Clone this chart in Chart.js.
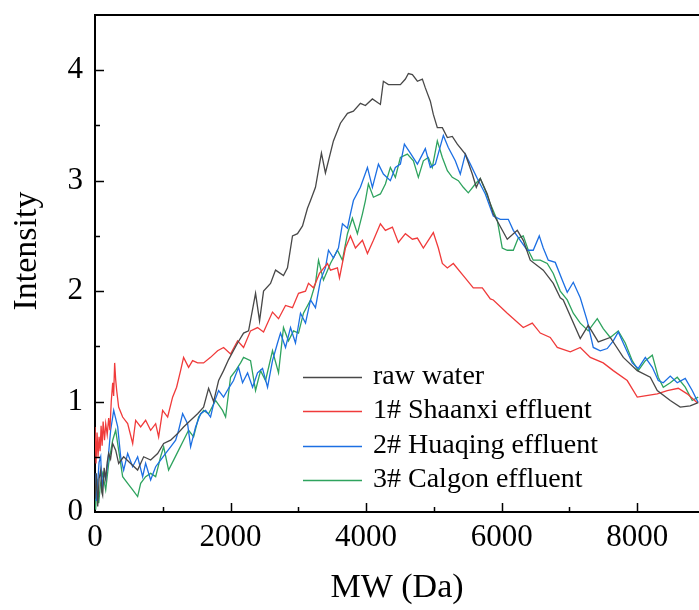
<!DOCTYPE html>
<html>
<head>
<meta charset="utf-8">
<script src="https://cdn.jsdelivr.net/npm/chart.js@4.4.1/dist/chart.umd.min.js"></script>
<style>
html, body { margin: 0; padding: 0; background: #fff; }
</style>
</head>
<body>
<canvas id="mw_plot" width="699" height="610"></canvas>
<script>
'use strict';

// Axis ranges / ticks
const X_MIN = 0, X_MAX = 8912;
const Y_MIN = 0, Y_MAX = 4.5;
const X_TICKS = [0, 2000, 4000, 6000, 8000];
const Y_TICKS = [0, 1, 2, 3, 4];
const Y_TITLE = 'Intensity';

// Series labels and colours
const LABELS = ['raw water', '1# Shaanxi effluent', '2# Huaqing effluent', '3# Calgon effluent'];
const COLORS = ['#484848', '#f03a3a', '#1c6fe3', '#2ea35e'];

// raw water
const rawWaterMW = [
    0, 20, 40, 60, 84, 100, 113, 135, 158, 180,
    202, 230, 261, 305, 349, 423, 526, 629, 718, 821,
    924, 1013, 1116, 1219, 1307, 1411, 1514, 1602, 1676, 1750,
    1824, 1897, 1971, 2104, 2192, 2266, 2369, 2428, 2487, 2590,
    2664, 2781, 2840, 2914, 2988, 3062, 3135, 3180, 3253, 3341,
    3400, 3518, 3621, 3725, 3813, 3916, 3990, 4093, 4211, 4255,
    4329, 4506, 4580, 4624, 4683, 4757, 4830, 4874, 4948, 4992,
    5051, 5125, 5199, 5272, 5346, 5464, 5567, 5626, 5685, 5788,
    5877, 6083, 6231, 6319, 6422, 6614, 6762, 6865, 6909, 7160,
    7278, 7426, 7603, 7795, 8001, 8193, 8296, 8488, 8635, 8782,
    8900
];
const rawWater = [
    0.12, 0.35, 0.05, 0.30, 0.38, 0.18, 0.15, 0.40, 0.30, 0.45,
    0.53, 0.48, 0.62, 0.56, 0.44, 0.50, 0.44, 0.38, 0.50, 0.47,
    0.53, 0.62, 0.65, 0.71, 0.77, 0.83, 0.89, 0.95, 1.12, 1.00,
    1.19, 1.28, 1.38, 1.53, 1.62, 1.64, 1.98, 1.73, 2.00, 2.07,
    2.19, 2.14, 2.21, 2.50, 2.52, 2.59, 2.75, 2.82, 2.94, 3.25,
    3.07, 3.36, 3.52, 3.61, 3.63, 3.70, 3.68, 3.74, 3.69, 3.90,
    3.87, 3.87, 3.92, 3.97, 3.96, 3.90, 3.92, 3.84, 3.72, 3.60,
    3.48, 3.48, 3.39, 3.40, 3.33, 3.24, 3.06, 2.94, 3.02, 2.88,
    2.70, 2.47, 2.55, 2.46, 2.28, 2.19, 2.07, 1.94, 1.92, 1.57,
    1.69, 1.54, 1.58, 1.40, 1.28, 1.22, 1.10, 1.01, 0.95, 0.96,
    0.99
];

// 1# Shaanxi effluent
const shaanxiMW = [
    0, 15, 30, 45, 60, 75, 90, 105, 120, 140,
    158, 180, 202, 220, 240, 261, 275, 290, 305, 320,
    349, 408, 482, 556, 600, 674, 747, 821, 895, 939,
    998, 1072, 1145, 1204, 1263, 1307, 1381, 1440, 1514, 1602,
    1705, 1809, 1897, 2000, 2104, 2192, 2295, 2398, 2487, 2619,
    2708, 2811, 2914, 3003, 3106, 3150, 3224, 3312, 3430, 3474,
    3577, 3607, 3695, 3769, 3843, 3946, 4020, 4108, 4211, 4285,
    4388, 4476, 4580, 4683, 4757, 4845, 4992, 5066, 5125, 5199,
    5287, 5434, 5582, 5715, 5833, 5877, 6083, 6319, 6452, 6570,
    6717, 6821, 7013, 7160, 7308, 7499, 7647, 7853, 8001, 8090,
    8296, 8444, 8606, 8738, 8886
];
const shaanxi = [
    0.77, 0.44, 0.72, 0.50, 0.68, 0.55, 0.78, 0.60, 0.82, 0.65,
    0.80, 0.70, 0.85, 0.74, 1.00, 1.17, 1.05, 1.35, 1.20, 1.10,
    0.95, 0.86, 0.80, 0.62, 0.83, 0.77, 0.83, 0.74, 0.80, 0.68,
    0.92, 0.86, 1.04, 1.13, 1.28, 1.40, 1.31, 1.37, 1.35, 1.35,
    1.40, 1.46, 1.49, 1.43, 1.55, 1.49, 1.64, 1.67, 1.63, 1.81,
    1.75, 1.87, 1.85, 1.98, 2.00, 2.07, 2.03, 2.16, 2.25, 2.19,
    2.21, 2.12, 2.39, 2.50, 2.39, 2.46, 2.34, 2.46, 2.61, 2.55,
    2.58, 2.44, 2.52, 2.47, 2.48, 2.39, 2.53, 2.39, 2.25, 2.21,
    2.25, 2.14, 2.03, 2.03, 1.93, 1.92, 1.80, 1.67, 1.71, 1.62,
    1.58, 1.49, 1.45, 1.49, 1.40, 1.35, 1.28, 1.19, 1.04, 1.05,
    1.07, 1.10, 1.12, 1.07, 0.99
];

// 2# Huaqing effluent
const huaqingMW = [
    0, 20, 40, 60, 84, 105, 128, 158, 187, 231,
    276, 335, 379, 423, 482, 556, 629, 703, 747, 821,
    895, 968, 1042, 1116, 1190, 1234, 1293, 1366, 1411, 1484,
    1558, 1632, 1705, 1750, 1824, 1897, 1971, 2044, 2118, 2177,
    2251, 2325, 2398, 2472, 2546, 2619, 2693, 2737, 2811, 2885,
    2958, 3032, 3106, 3180, 3253, 3327, 3400, 3445, 3518, 3592,
    3651, 3725, 3769, 3813, 3916, 4020, 4093, 4182, 4255, 4358,
    4432, 4506, 4565, 4653, 4757, 4874, 4948, 5022, 5140, 5213,
    5316, 5390, 5464, 5538, 5641, 5759, 5877, 5980, 6098, 6172,
    6275, 6378, 6466, 6555, 6614, 6688, 6791, 6894, 6968, 7057,
    7160, 7263, 7352, 7455, 7558, 7647, 7721, 7824, 7927, 8016,
    8120, 8223, 8311, 8385, 8488, 8591, 8709, 8812, 8900
];
const huaqing = [
    0.35, 0.10, 0.26, 0.45, 0.50, 0.20, 0.35, 0.30, 0.44, 0.74,
    0.92, 0.77, 0.50, 0.38, 0.53, 0.41, 0.50, 0.32, 0.44, 0.29,
    0.41, 0.47, 0.53, 0.59, 0.65, 0.74, 0.89, 0.80, 0.59, 0.77,
    0.89, 0.92, 0.86, 0.98, 1.10, 1.04, 1.12, 1.19, 1.31, 1.17,
    1.26, 1.13, 1.26, 1.30, 1.13, 1.37, 1.53, 1.62, 1.49, 1.67,
    1.53, 1.80, 1.71, 1.92, 1.85, 2.10, 2.21, 2.37, 2.30, 2.39,
    2.61, 2.57, 2.70, 2.82, 2.94, 3.12, 2.94, 3.15, 3.06, 3.00,
    3.12, 3.15, 3.33, 3.25, 3.15, 3.29, 3.12, 3.15, 3.41, 3.30,
    3.18, 3.06, 3.24, 3.15, 3.02, 2.88, 2.68, 2.65, 2.65, 2.55,
    2.46, 2.37, 2.37, 2.50, 2.39, 2.28, 2.26, 2.10, 1.99, 2.08,
    1.94, 1.73, 1.49, 1.46, 1.48, 1.55, 1.63, 1.49, 1.35, 1.30,
    1.40, 1.31, 1.19, 1.17, 1.23, 1.17, 1.21, 1.10, 0.99
];

// 3# Calgon effluent
const calgonMW = [
    0, 10, 30, 55, 80, 113, 158, 202, 261, 305,
    349, 408, 482, 556, 629, 674, 747, 821, 895, 968,
    1013, 1086, 1160, 1234, 1307, 1381, 1455, 1529, 1602, 1676,
    1779, 1882, 1927, 2000, 2074, 2148, 2192, 2295, 2369, 2443,
    2516, 2619, 2708, 2781, 2855, 2929, 3003, 3076, 3180, 3253,
    3298, 3371, 3474, 3577, 3651, 3725, 3798, 3872, 3946, 3990,
    4034, 4108, 4211, 4285, 4358, 4432, 4506, 4609, 4698, 4771,
    4845, 4918, 4977, 5051, 5125, 5199, 5272, 5361, 5434, 5508,
    5611, 5685, 5759, 5833, 5936, 6009, 6083, 6172, 6245, 6319,
    6393, 6466, 6570, 6673, 6762, 6865, 6968, 7057, 7160, 7278,
    7411, 7499, 7603, 7721, 7824, 7927, 8016, 8120, 8223, 8311,
    8385, 8488, 8591, 8709, 8812, 8900
];
const calgon = [
    0.20, 0.02, 0.30, 0.08, 0.25, 0.35, 0.20, 0.44, 0.65, 0.74,
    0.56, 0.32, 0.26, 0.20, 0.14, 0.26, 0.32, 0.35, 0.32, 0.50,
    0.59, 0.38, 0.47, 0.56, 0.65, 0.74, 0.68, 0.86, 0.92, 0.89,
    1.01, 0.92, 0.86, 1.22, 1.28, 1.35, 1.40, 1.37, 1.10, 1.28,
    1.19, 1.46, 1.26, 1.67, 1.55, 1.64, 1.62, 1.80, 1.92, 2.07,
    2.28, 2.10, 2.25, 2.37, 2.28, 2.52, 2.66, 2.52, 2.70, 2.82,
    2.97, 2.85, 2.88, 2.97, 3.12, 3.03, 3.21, 3.24, 3.18, 3.03,
    3.18, 3.21, 3.12, 3.36, 3.21, 3.09, 3.03, 3.00, 2.94, 2.89,
    2.97, 3.02, 2.91, 2.79, 2.64, 2.39, 2.37, 2.37, 2.48, 2.50,
    2.37, 2.28, 2.28, 2.25, 2.16, 2.00, 1.92, 1.80, 1.71, 1.64,
    1.75, 1.66, 1.58, 1.64, 1.53, 1.37, 1.28, 1.37, 1.42, 1.22,
    1.13, 1.17, 1.22, 1.13, 1.01, 1.04
];

function toPoints(xs, ys) {
    return xs.map((x, i) => ({ x: x, y: ys[i] }));
}

const SERIES = [
    toPoints(rawWaterMW, rawWater),
    toPoints(shaanxiMW, shaanxi),
    toPoints(huaqingMW, huaqing),
    toPoints(calgonMW, calgon)
];

const FONT = "'Liberation Serif', 'Times New Roman', serif";

// inward ticks (major + minor), top frame line, y title and the legend block
const framePlugin = {
    id: 'frame',
    afterDatasetsDraw(chart) {
        const ctx = chart.ctx;
        const area = chart.chartArea;
        const xs = chart.scales.x, ys = chart.scales.y;
        ctx.save();
        ctx.strokeStyle = '#000';
        ctx.lineWidth = 2;
        ctx.beginPath();
        ctx.moveTo(area.left - 1, area.top);
        ctx.lineTo(area.right, area.top);
        ctx.stroke();

        ctx.lineWidth = 1.5;
        ctx.beginPath();
        for (let v = 1000; v < X_MAX; v += 1000) {
            const px = Math.round(xs.getPixelForValue(v)) + 0.5;
            const len = (v % 2000 === 0) ? 9 : 5;
            ctx.moveTo(px, area.bottom);
            ctx.lineTo(px, area.bottom - len);
        }
        for (let v = 0.5; v < Y_MAX; v += 0.5) {
            const py = Math.round(ys.getPixelForValue(v)) + 0.5;
            const len = (Math.abs(v - Math.round(v)) < 1e-6) ? 9 : 5;
            ctx.moveTo(area.left, py);
            ctx.lineTo(area.left + len, py);
        }
        ctx.stroke();

        // y axis title, a bit above the middle of the axis
        ctx.save();
        ctx.translate(27, 251);
        ctx.rotate(-Math.PI / 2);
        ctx.font = '34px ' + FONT;
        ctx.fillStyle = '#000';
        ctx.textAlign = 'center';
        ctx.textBaseline = 'middle';
        ctx.fillText(Y_TITLE, 0, 0);
        ctx.restore();

        // legend
        const lx0 = 303, lx1 = 362, tx = 373;
        const rows = [377, 411, 446, 480];
        ctx.font = '28px ' + FONT;
        ctx.textBaseline = 'middle';
        ctx.textAlign = 'left';
        chart.data.datasets.forEach((ds, i) => {
            ctx.strokeStyle = ds.borderColor;
            ctx.lineWidth = 1.5;
            ctx.beginPath();
            ctx.moveTo(lx0, rows[i] + 0.5);
            ctx.lineTo(lx1, rows[i] + 0.5);
            ctx.stroke();
            ctx.fillStyle = '#000';
            ctx.fillText(ds.label, tx, rows[i]);
        });
        ctx.restore();
    }
};

const datasets = SERIES.map((pts, i) => ({
    label: LABELS[i],
    data: pts,
    borderColor: COLORS[i],
    backgroundColor: COLORS[i],
    borderWidth: 1.3,
    pointRadius: 0,
    tension: 0,
    fill: false
}));

const config = {
    type: 'line',
    data: { datasets: datasets },
    options: {
        responsive: false,
        animation: false,
        layout: { padding: { top: 15, right: 0, left: 0, bottom: 0 } },
        plugins: {
            legend: { display: false },
            tooltip: { enabled: false }
        },
        scales: {
            x: {
                type: 'linear',
                min: X_MIN,
                max: X_MAX,
                afterFit: (s) => { s.height = 98; s.paddingLeft = 0; s.paddingRight = 0; },
                afterBuildTicks: (s) => { s.ticks = X_TICKS.map(v => ({ value: v })); },
                grid: { display: false, drawTicks: false },
                border: { display: true, color: '#000', width: 2 },
                ticks: {
                    includeBounds: false,
                    padding: 7,
                    color: '#000',
                    maxRotation: 0,
                    callback: (v) => String(v),
                    font: { family: FONT, size: 31 }
                },
                title: {
                    display: true,
                    text: 'MW (Da)',
                    color: '#000',
                    padding: { top: 0, bottom: 2 },
                    font: { family: FONT, size: 34 }
                }
            },
            y: {
                type: 'linear',
                min: Y_MIN,
                max: Y_MAX,
                afterFit: (s) => { s.width = 95; s.paddingTop = 0; s.paddingBottom = 0; },
                afterBuildTicks: (s) => { s.ticks = Y_TICKS.map(v => ({ value: v })); },
                grid: { display: false, drawTicks: false },
                border: { display: true, color: '#000', width: 2 },
                ticks: {
                    includeBounds: false,
                    padding: 12,
                    color: '#000',
                    callback: (v) => String(v),
                    font: { family: FONT, size: 31 }
                },
                title: { display: false }
            }
        }
    },
    plugins: [framePlugin]
};

new Chart(document.getElementById('mw_plot'), config);
</script>
</body>
</html>
